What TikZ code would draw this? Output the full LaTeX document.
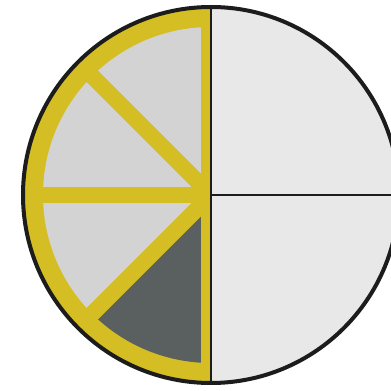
\documentclass[tikz,border=0pt]{standalone}
\usepackage{tikz}
\usetikzlibrary{calc}
\definecolor{ring}{RGB}{212,190,36}
\definecolor{lightsec}{RGB}{211,211,211}
\definecolor{darksec}{RGB}{90,96,96}
\definecolor{righthalf}{RGB}{232,232,232}
\definecolor{outline}{RGB}{28,28,28}
\tikzset{
  spoke/.style={draw=ring, line width=16pt},
  divider/.style={draw=outline, line width=2pt},
}
\begin{document}
\begin{tikzpicture}[x=1pt,y=1pt]
\useasboundingbox (0,0) rectangle (391,391);
\coordinate (c) at (211,196);
% right half
\fill[righthalf] (c) ++(0,188) arc[start angle=90,end angle=-90,radius=188] -- cycle;
% left half yellow base
\fill[ring] (c) ++(0,188) arc[start angle=90,end angle=270,radius=188] -- cycle;
% light sectors
\fill[lightsec] (c) -- ++(90:168) arc[start angle=90,end angle=225,radius=168] -- cycle;
% dark sector
\fill[darksec] (c) -- ++(225:168) arc[start angle=225,end angle=270,radius=168] -- cycle;
% spokes, kept inside the left half
\coordinate (s1) at ($(c)+(135:180)$);
\coordinate (s2) at ($(c)+(180:180)$);
\coordinate (s3) at ($(c)+(225:180)$);
\begin{scope}
\clip ($(c)+(-200,-200)$) rectangle ($(c)+(0,200)$);
\draw[spoke] (c) -- (s1);
\draw[spoke] (c) -- (s2);
\draw[spoke] (c) -- (s3);
\end{scope}
\fill[ring] ($(c)+(-10,-186)$) rectangle ($(c)+(0,186)$);
% dividers
\coordinate (top) at ($(c)+(0,188)$);
\coordinate (bot) at ($(c)+(0,-188)$);
\coordinate (rt) at ($(c)+(188,0)$);
\draw[divider] (top) -- (bot);
\draw[divider] (c) -- (rt);
% outline
\draw[outline, line width=4pt] (c) circle[radius=188];
\end{tikzpicture}
\end{document}
